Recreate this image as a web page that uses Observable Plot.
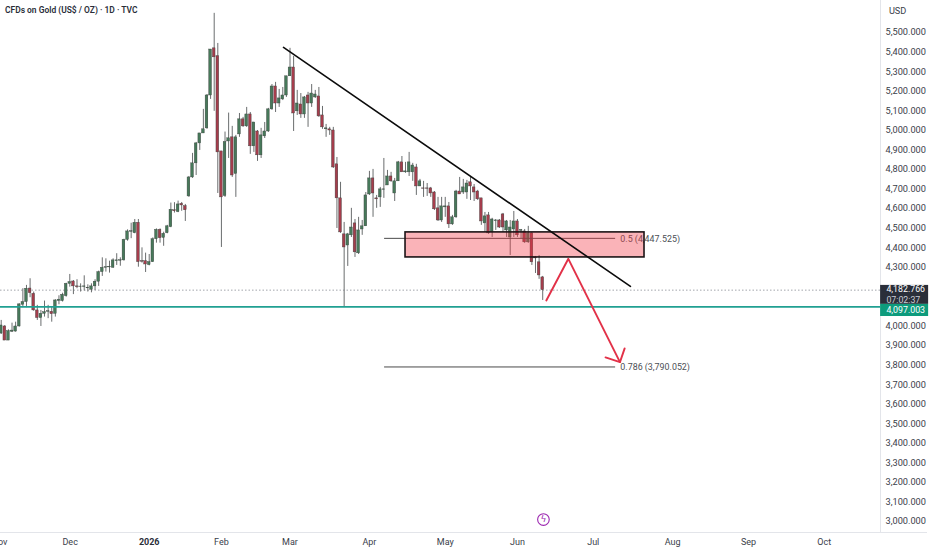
<!DOCTYPE html>
<html>
<head>
<meta charset="utf-8">
<script src="https://cdn.jsdelivr.net/npm/d3@7"></script>
<script src="https://cdn.jsdelivr.net/npm/@observablehq/plot@0.6"></script>
<style>
  html,body{margin:0;padding:0;background:#fff;}
  #wrap{position:relative;width:932px;height:550px;overflow:hidden;}
  #title{position:absolute;left:5px;top:5px;font:600 8.45px Roboto,sans-serif;color:#2a2e39;white-space:nowrap;}
  svg{display:block;}
</style>
</head>
<body>
<div id="wrap"><div id="title">CFDs on Gold (US$ / OZ) · 1D · TVC</div></div>
<script>
const opens = [3961,3997,3925,3970,3971,3997,4108,4122,4191,4164,4079,4040,4062,4072,4072,4062,4127,4127,4152,4215,4227,4202,4199,4199,4192,4185,4202,4226,4275,4297,4299,4297,4331,4333,4335,4440,4481,4474,4527,4331,4331,4311,4326,4443,4491,4450,4474,4505,4591,4582,4624,4612,
4662,4759,4831,4933,4984,5010,5178,5419,5379,4892,4664,4943,4964,4777,4979,5056,5020,5081,4918,4994,4872,4969,4994,5107,5224,5137,5158,5178,5276,5321,5097,5132,5081,5178,5137,5168,5173,5076,5005,5005,4999,4826,4652,4468,4411,4463,4524,4371,
4493,4509,4672,4754,4652,4657,4696,4718,4764,4677,4739,4836,4785,4785,4785,4810,4713,4703,4703,4703,4682,4601,4539,4606,4611,4519,4555,4687,4682,4682,4734,4708,4687,4652,4524,4565,4478,4536,4539,4570,4488,4452,4493,4534,4486,4483,4427,4473,4350,4325,4248];
const highs = [4028,4002,3980,4014,4019,4113,4190,4207,4241,4173,4105,4079,4127,4105,4096,4134,4154,4167,4218,4263,4232,4236,4215,4256,4210,4215,4236,4280,4348,4343,4331,4343,4369,4348,4443,4491,4525,4544,4544,4399,4372,4365,4450,4496,4496,4479,4514,4628,4630,4638,4631,4621,
4764,4882,4938,4984,5107,5183,5413,5598,5444,4892,4991,5088,5020,4974,5086,5066,5117,5091,5040,4999,5010,5040,5112,5234,5245,5209,5219,5276,5419,5378,5204,5188,5173,5194,5234,5204,5219,5122,5030,5015,5015,4861,4734,4529,4473,4601,4544,4555,
4539,4682,4790,4800,4667,4708,4856,4795,4785,4754,4841,4866,4836,4887,4831,4826,4749,4739,4728,4708,4687,4657,4657,4657,4631,4565,4693,4759,4749,4744,4764,4723,4693,4652,4580,4580,4550,4544,4544,4575,4539,4539,4585,4544,4493,4493,4509,4478,4355,4360,4253];
const lows = [3956,3925,3925,3966,3968,3994,4093,4093,4144,4075,4028,3997,4045,4037,4019,4045,4108,4122,4147,4198,4160,4190,4173,4178,4173,4169,4181,4202,4253,4275,4270,4295,4309,4305,4331,4433,4446,4471,4300,4321,4273,4307,4324,4423,4423,4407,4471,4502,4577,4579,4586,4534,
4657,4754,4769,4897,4984,5005,5158,5097,4677,4401,4657,4856,4759,4657,4964,5015,5015,4877,4887,4841,4856,4958,4989,5102,5091,5117,5152,5168,5276,4994,5076,5061,5061,5015,5117,5163,5066,5005,4964,4974,4805,4498,4473,4097,4304,4452,4350,4365,
4463,4509,4667,4555,4601,4606,4652,4718,4734,4636,4739,4785,4780,4764,4739,4667,4713,4657,4662,4657,4590,4534,4529,4555,4498,4514,4550,4672,4672,4647,4641,4636,4641,4514,4478,4468,4452,4488,4498,4478,4452,4360,4452,4452,4447,4422,4422,4309,4268,4238,4130];
const closes = [4002,3925,3973,3976,3997,4110,4122,4190,4167,4079,4040,4062,4070,4075,4060,4130,4134,4159,4215,4224,4202,4198,4201,4202,4195,4202,4226,4275,4297,4300,4302,4335,4335,4336,4440,4483,4484,4527,4326,4328,4314,4326,4443,4491,4448,4471,4509,4594,4586,4621,4616,4591,
4759,4831,4933,4984,5005,5178,5413,5373,4887,4657,4940,4959,4769,4964,5056,5020,5081,4918,5040,4872,4974,4994,5107,5224,5137,5163,5178,5276,5321,5086,5137,5081,5168,5137,5188,5183,5071,5015,5010,4999,4810,4652,4478,4401,4468,4503,4376,4488,
4509,4667,4754,4677,4647,4698,4698,4764,4739,4739,4836,4785,4790,4836,4820,4713,4739,4701,4701,4677,4596,4539,4611,4611,4519,4555,4687,4672,4708,4728,4713,4682,4647,4534,4560,4473,4544,4539,4503,4503,4534,4503,4534,4463,4490,4427,4473,4325,4345,4258,4182.766];

const yTicks = [5500,5400,5300,5200,5100,5000,4900,4800,4700,4600,4500,4400,4300,4000,3900,3800,3700,3600,3500,3400,3300,3200,3100,3000];
const monthBars = [-0.5,19.1,61,80,102,123,143,164,186,207,228];
const monthNames = ["Nov","Dec","Feb","Mar","Apr","May","Jun","Jul","Aug","Sep","Oct"];
const yearBar = 41, yearName = "2026";

const lastPrice = 4182.766;
const supportPrice = 4097.003;
const countdown = "07:02:37";
const trendBars = [78.2,174.3];
const trendPrices = [5424,4202];
const zoneBars = [112,178.2];
const zonePrices = [4350,4478];
const fibBars = [106.2,170.2];
const fibLevels = [4447.525,3790.052];
const fibNames = ["0.5 (4,447.525)","0.786 (3,790.052)"];
const arrowBars = [151,157.1,171.4];
const arrowPrices = [4130,4343,3815];
const headBars = [167.4,171.4,172.7];
const headPrices = [3839,3815,3885];

const bars = opens.map((o,i)=>({i,o,h:highs[i],l:lows[i],c:closes[i]}));
const UP = "#47795a", DOWN = "#a53d4c";

const font = "Roboto, sans-serif";
const plot = Plot.plot({
  width: 932, height: 550,
  marginLeft: 0, marginTop: 0, marginRight: 52, marginBottom: 18,
  style: {fontFamily: font, background: "#fff", overflow: "visible"},
  x: {domain: [-0.194, 243.57], axis: null},
  y: {domain: [2943.7, 5663.6], axis: null},
  marks: [
    Plot.ruleX([243.57], {stroke:"#e3e5ea", y1:2943.7, y2:5663.6}),
    Plot.ruleY([2943.7], {stroke:"#e3e5ea", x1:-0.194, x2:256.6}),
    Plot.axisY(yTicks, {anchor:"right", tickSize:0, tickPadding:5, label:null,
      tickFormat:d3.format(",.3f"), fontSize:9.2, fill:"#3a3e4a"}),
    Plot.axisX(monthBars, {anchor:"bottom", tickSize:0, tickPadding:6, label:null,
      tickFormat:(d)=>monthNames[monthBars.indexOf(d)], fontSize:9, fill:"#3a3e4a"}),
    Plot.text([yearName], {x:yearBar, y:2943.7, dy:10, text:d=>d, fontSize:9, fontWeight:700, fill:"#2a2e39"}),
    Plot.text(["USD"], {x:245.9, y:5607.8, text:d=>d, textAnchor:"start", fontSize:9.2, fill:"#3a3e4a"}),

    Plot.ruleY([lastPrice], {x1:-0.194, x2:243.57, stroke:"#8a8d94", strokeWidth:0.8, strokeDasharray:"1.5,2"}),

    Plot.ruleX(bars, {x:"i", y1:"l", y2:"h", stroke:"#6a6d6e", strokeWidth:1}),
    Plot.rect(bars, {
      x1:d=>d.i-0.37, x2:d=>d.i+0.37, y1:"o", y2:"c",
      fill:d=>d.c>=d.o?UP:DOWN, stroke:"#3a3f3c", strokeWidth:0.4
    }),

    Plot.ruleY([supportPrice], {x1:-0.194, x2:243.57, stroke:"#20a092", strokeWidth:1.6}),

    Plot.ruleY(fibLevels, {x1:fibBars[0], x2:fibBars[1], stroke:"#4a4a4a", strokeWidth:1}),
    Plot.text(fibLevels, {x:fibBars[1]+1.3, y:d=>d, dy:0.5, text:(d,k)=>fibNames[k], textAnchor:"start", fontSize:8.9, fill:"#4c4f55"}),

    Plot.rect([0], {x1:zoneBars[0], x2:zoneBars[1], y1:zonePrices[0], y2:zonePrices[1],
      fill:"#f23645", fillOpacity:0.38, stroke:"#1c1416", strokeWidth:1.6}),

    Plot.line(trendBars, {x:d=>d, y:(d,k)=>trendPrices[k], stroke:"#0b0b0b", strokeWidth:1.6}),
    Plot.line(arrowBars, {x:d=>d, y:(d,k)=>arrowPrices[k], stroke:"#e23148", strokeWidth:1.9}),
    Plot.line(headBars, {x:d=>d, y:(d,k)=>headPrices[k], stroke:"#e23148", strokeWidth:1.9}),

    Plot.rect([0], {x1:243.6, x2:256.9, y1:4110, y2:4207, fill:"#2a2e39"}),
    Plot.rect([0], {x1:243.6, x2:256.9, y1:4048, y2:4110, fill:"#0d9b7c"}),
    Plot.text([d3.format(",.3f")(lastPrice)], {x:245.2, y:4186, text:d=>d, textAnchor:"start", fontSize:8.8, fill:"#fff"}),
    Plot.text([countdown], {x:245.2, y:4133, text:d=>d, textAnchor:"start", fontSize:8.8, fill:"#c9ccd3"}),
    Plot.text([d3.format(",.3f")(supportPrice)], {x:245.2, y:4079, text:d=>d, textAnchor:"start", fontSize:8.8, fill:"#fff"}),

    Plot.dot([0], {x:150.2, y:3010, r:5.8, stroke:"#9c27b0", strokeWidth:1.1, fill:"#fff"}),
    Plot.text(["\u03DF"], {x:150.2, y:3010, text:d=>d, fontSize:9, fontFamily:"DejaVu Sans", fill:"#9c27b0"})
  ]
});
document.getElementById("wrap").prepend(plot);
</script>
</body>
</html>
